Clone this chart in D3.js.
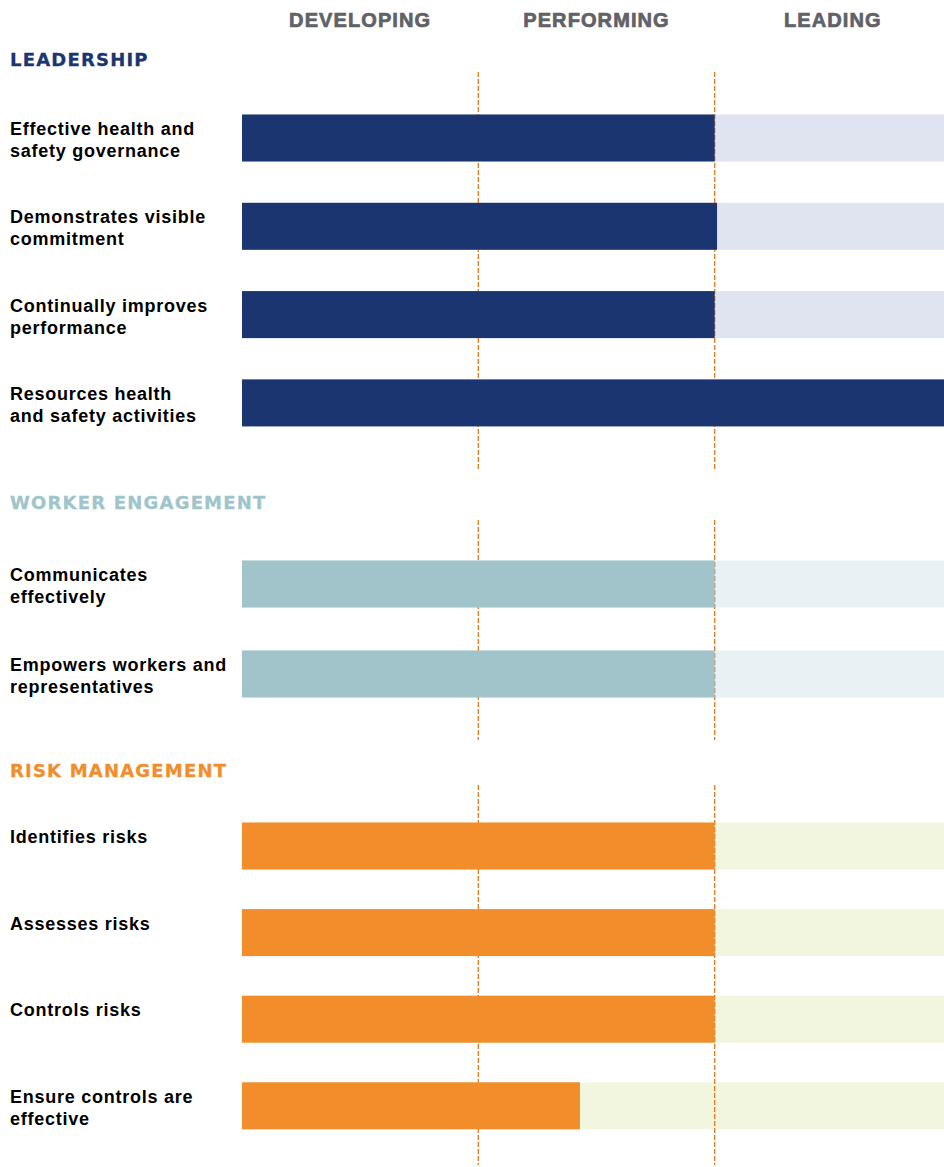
<!DOCTYPE html>
<html><head><meta charset="utf-8">
<script src="https://cdn.jsdelivr.net/npm/d3@7"></script>
<style>body{margin:0;background:#fff}svg{display:block}</style>
</head><body>
<script>
const levels = ["DEVELOPING", "PERFORMING", "LEADING"];
const sectionNames = ["LEADERSHIP", "WORKER ENGAGEMENT", "RISK MANAGEMENT"];

const leadershipLabels = [["Effective health and", "safety governance"], ["Demonstrates visible", "commitment"], ["Continually improves", "performance"], ["Resources health", "and safety activities"]];
const leadershipValues = [2.0, 2.01, 2.0, 3.0];

const workerLabels = [["Communicates", "effectively"], ["Empowers workers and", "representatives"]];
const workerValues = [2.0, 2.0];

const riskLabels = [["Identifies risks"], ["Assesses risks"], ["Controls risks"], ["Ensure controls are", "effective"]];
const riskValues = [2.0, 2.0, 2.0, 1.43];

const sectionColors = [
  {fg: "#1a356f", bg: "#dfe4f0", title: "#1a356f"},
  {fg: "#a0c4ca", bg: "#e8f1f4", title: "#9fc5cb"},
  {fg: "#f28d2b", bg: "#f3f6de", title: "#f28d2b"}
];
// layout per section
const layout = [
  {titleY: 66, firstRow: 138, step: 88.3, dash: [72, 470]},
  {titleY: 509, firstRow: 584, step: 90, dash: [520, 740]},
  {titleY: 777, firstRow: 846, step: 86.6, dash: [785, 1165]}
];
const sections = [
  {labels: leadershipLabels, values: leadershipValues},
  {labels: workerLabels, values: workerValues},
  {labels: riskLabels, values: riskValues}
];

const W = 944, H = 1167, barH = 47;
const svg = d3.select("body").append("svg").attr("width", W).attr("height", H);
const x = d3.scaleLinear().domain([0, 3]).range([242, 951]);

// column headers
svg.selectAll("text.level").data(levels).join("text")
  .attr("class", "level")
  .attr("x", (d, i) => x(i + 0.5)).attr("y", 27)
  .attr("text-anchor", "middle")
  .attr("font-family", "Liberation Sans, Arial, sans-serif")
  .attr("font-weight", "bold").attr("font-size", 20)
  .attr("letter-spacing", 1.1)
  .attr("fill", "#5f6266").attr("stroke", "#5f6266").attr("stroke-width", 0.7)
  .text(d => d);

sections.forEach((s, si) => {
  const L = layout[si], C = sectionColors[si];
  const g = svg.append("g");
  g.append("text").attr("x", 10).attr("y", L.titleY)
    .attr("font-family", "DejaVu Sans, sans-serif")
    .attr("font-weight", "bold").attr("font-size", 18)
    .attr("letter-spacing", 1.2)
    .attr("fill", C.title).attr("stroke", C.title).attr("stroke-width", 0.3)
    .text(sectionNames[si]);

  const rows = s.values.map((v, i) => ({v, label: s.labels[i], cy: L.firstRow + i * L.step}));

  // background bars
  g.selectAll("rect.bg").data(rows).join("rect").attr("class", "bg")
    .attr("x", x(0)).attr("width", x(3) - x(0))
    .attr("y", d => d.cy - barH / 2).attr("height", barH)
    .attr("fill", C.bg);

  // dashed reference lines
  g.selectAll("line.ref").data([1, 2]).join("line").attr("class", "ref")
    .attr("x1", d => x(d)).attr("x2", d => x(d))
    .attr("y1", L.dash[0]).attr("y2", L.dash[1])
    .attr("stroke", "#e07f26").attr("stroke-width", 1.4)
    .attr("stroke-dasharray", "5,2");

  // value bars
  g.selectAll("rect.fg").data(rows).join("rect").attr("class", "fg")
    .attr("x", x(0)).attr("width", d => x(d.v) - x(0))
    .attr("y", d => d.cy - barH / 2).attr("height", barH)
    .attr("fill", C.fg);

  // labels
  const t = g.selectAll("text.lab").data(rows).join("text").attr("class", "lab")
    .attr("x", 10).attr("y", d => d.cy - 3)
    .attr("font-family", "Liberation Sans, Arial, sans-serif")
    .attr("font-weight", "bold").attr("font-size", 18)
    .attr("letter-spacing", 0.75)
    .attr("fill", "#000");
  t.selectAll("tspan").data(d => d.label).join("tspan")
    .attr("x", 10).attr("dy", (d, i) => i === 0 ? 0 : 22)
    .text(d => d);
});
</script>
</body></html>
